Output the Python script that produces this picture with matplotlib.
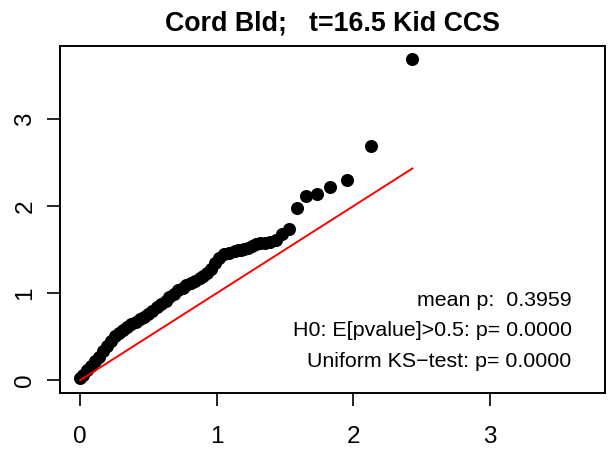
import numpy as np
import matplotlib
matplotlib.use("Agg")
import matplotlib.pyplot as plt

plt.rcParams['font.family'] = ['Liberation Sans', 'DejaVu Sans']

# number of p-values tested
n_tests = 270

ranks = [1, 2, 3, 4, 5, 6, 7, 8, 9, 10, 11, 12, 13, 14, 15, 16, 17, 18, 19, 20,
         22, 24, 26, 28, 30, 32, 34, 36, 39, 42, 45, 48, 52, 56, 60, 64, 69, 74,
         80, 86, 92, 99, 106, 114, 122, 131, 140, 150, 161, 172, 184, 197, 211,
         226, 242, 259, 270]
observed = [3.694, 2.685, 2.30, 2.213, 2.14, 2.117, 1.98, 1.734, 1.68, 1.61,
            1.585, 1.58, 1.572, 1.56, 1.54, 1.52, 1.51, 1.50, 1.49, 1.48,
            1.465, 1.445, 1.40, 1.34, 1.28, 1.235, 1.20, 1.17, 1.14, 1.115,
            1.09, 1.06, 1.03, 0.99, 0.95, 0.91, 0.87, 0.835, 0.795, 0.76,
            0.73, 0.70, 0.67, 0.64, 0.61, 0.575, 0.545, 0.51, 0.45, 0.39,
            0.33, 0.27, 0.215, 0.165, 0.12, 0.06, 0.02]

title = "Cord Bld;   t=16.5 Kid CCS"
stats_lines = ["mean p:  0.3959",
               "H0: E[pvalue]>0.5: p= 0.0000",
               "Uniform KS\u2212test: p= 0.0000"]

expected = -np.log10(np.array(ranks) / n_tests)
observed = np.array(observed)
top = observed.max()

W, H = 613, 451
fig = plt.figure(figsize=(W / 100, H / 100), dpi=100)
ax = fig.add_axes([60 / W, (H - 393) / H, 545 / W, (393 - 45.7) / H])

ax.plot(expected, observed, 'o', color='black', markersize=9.4, markeredgewidth=0)
emax = -np.log10(1 / n_tests)
ax.plot([0, emax], [0, emax], color='red', linewidth=1.4)

pad = 0.04 * top
ax.set_xlim(-pad, top + pad)
ax.set_ylim(-pad, top + pad)
ax.set_xticks([0, 1, 2, 3])
ax.set_yticks([0, 1, 2, 3])
ax.tick_params(axis='both', labelsize=17.5, length=9.5, width=1.2)
ax.tick_params(axis='x', pad=14)
ax.tick_params(axis='y', pad=7.5)
for lab in ax.get_yticklabels():
    lab.set_rotation(90)
    lab.set_va('center')
for sp in ax.spines.values():
    sp.set_linewidth(1.4)

ax.set_title(title, fontsize=19.3, fontweight='bold', pad=11)

for txt, yv in zip(stats_lines, [0.92, 0.575, 0.21]):
    ax.text(3.597, yv, txt, ha='right', va='center', fontsize=15.4)

fig.savefig("out.png", dpi=100)
